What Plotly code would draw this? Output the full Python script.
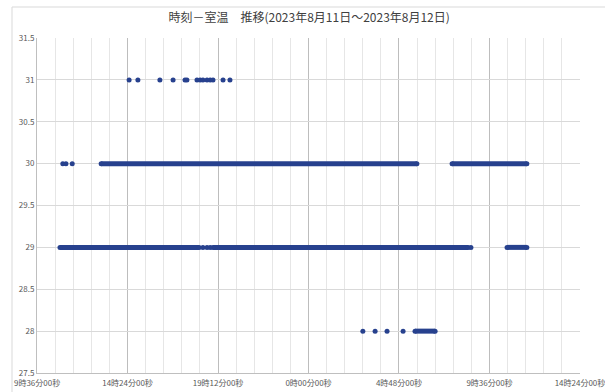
import plotly.graph_objects as go

# Continuous runs of readings (temperature, start, end)
run_temp = [29, 29, 29, 30, 30, 28]
run_start = ["2023-08-11 10:49", "2023-08-11 18:56", "2023-08-12 10:32",
             "2023-08-11 13:00", "2023-08-12 07:37", "2023-08-12 05:39"]
run_end = ["2023-08-11 18:12", "2023-08-12 08:28", "2023-08-12 11:35",
           "2023-08-12 05:45", "2023-08-12 11:35", "2023-08-12 06:43"]

# Isolated readings
dot_temp = [30, 30, 30,
            31, 31, 31, 31, 31, 31, 31, 31, 31, 31, 31, 31, 31, 31,
            29, 29, 29, 29,
            28, 28, 28, 28]
dot_time = ["2023-08-11 10:58", "2023-08-11 11:08", "2023-08-11 11:28",
            "2023-08-11 14:29", "2023-08-11 14:57", "2023-08-11 16:07", "2023-08-11 16:49",
            "2023-08-11 17:27", "2023-08-11 17:33", "2023-08-11 18:05", "2023-08-11 18:15",
            "2023-08-11 18:24", "2023-08-11 18:37", "2023-08-11 18:47", "2023-08-11 18:56",
            "2023-08-11 19:28", "2023-08-11 19:50",
            "2023-08-11 18:24", "2023-08-11 18:37", "2023-08-11 18:47", "2023-08-12 08:37",
            "2023-08-12 02:53", "2023-08-12 03:32", "2023-08-12 04:10", "2023-08-12 05:01"]

tick_vals = ["2023-08-11 09:36", "2023-08-11 14:24", "2023-08-11 19:12", "2023-08-12 00:00",
             "2023-08-12 04:48", "2023-08-12 09:36", "2023-08-12 14:24"]
tick_text = ["9時36分00秒", "14時24分00秒", "19時12分00秒", "0時00分00秒",
             "4時48分00秒", "9時36分00秒", "14時24分00秒"]
y_ticks = [27.5, 28, 28.5, 29, 29.5, 30, 30.5, 31, 31.5]
x_range = ["2023-08-11 09:35:50", "2023-08-12 14:24:10"]

COLOR = "#27418E"
FONT = "Noto Sans CJK JP"

seg_x, seg_y = [], []
for t, s, e in zip(run_temp, run_start, run_end):
    seg_x += [s, e, None]
    seg_y += [t, t, None]

fig = go.Figure()
fig.add_trace(go.Scatter(x=seg_x, y=seg_y, mode="lines+markers",
                         line=dict(color=COLOR, width=5),
                         marker=dict(color=COLOR, size=5), hoverinfo="skip"))
fig.add_trace(go.Scatter(x=dot_time, y=dot_temp, mode="markers",
                         marker=dict(color=COLOR, size=5)))

fig.update_layout(
    width=605, height=392,
    margin=dict(l=37, r=25, t=38, b=19),
    paper_bgcolor="white", plot_bgcolor="white",
    showlegend=False,
    font=dict(family=FONT, size=8, color="#595959"),
    title=dict(text="時刻－室温　推移(2023年8月11日～2023年8月12日)",
               x=0.511, xanchor="center", y=1 - 18 / 392, yanchor="middle",
               automargin=False,
               font=dict(family=FONT, size=12, color="#404040")),
    xaxis=dict(type="date", range=x_range,
               tickvals=tick_vals, ticktext=tick_text, automargin=False,
               showgrid=True, gridcolor="#BDBDBD", gridwidth=1,
               minor=dict(tick0=tick_vals[0], dtick=3456000, showgrid=True,
                          gridcolor="#E6E6E6", gridwidth=1),
               showline=True, linecolor="#BFBFBF", linewidth=1,
               ticks="", zeroline=False, tickfont=dict(size=8),
               ticklabelstandoff=2, ticklabeloverflow="allow"),
    yaxis=dict(range=[27.5, 31.5], tickvals=y_ticks, automargin=False,
               showgrid=True, gridcolor="#D9D9D9", gridwidth=1,
               showline=True, linecolor="#BFBFBF", linewidth=1,
               ticks="", zeroline=False, tickfont=dict(size=8)),
    shapes=[
        dict(type="line", xref="paper", yref="paper",
             x0=(12 - 37) / 543, x1=1.1, y0=(373 - 7) / 335, y1=(373 - 7) / 335,
             line=dict(color="#D9D9D9", width=1)),
        dict(type="line", xref="paper", yref="paper",
             x0=(12 - 37) / 543, x1=(12 - 37) / 543, y0=(373 - 7) / 335, y1=-0.2,
             line=dict(color="#D9D9D9", width=1)),
    ],
)

fig.write_html("out.html", config={"displayModeBar": False},
               post_script="document.body.style.margin='0';document.body.style.overflow='hidden';")
